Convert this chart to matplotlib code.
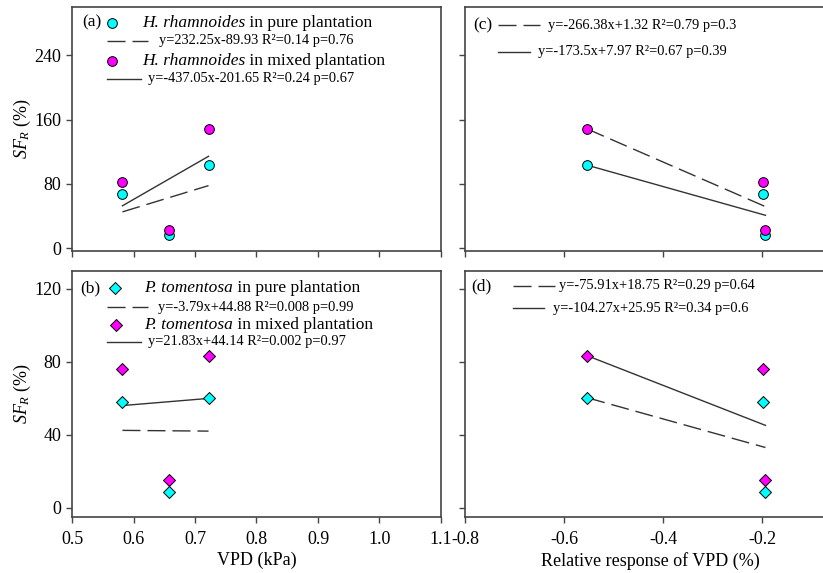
import numpy as np
import matplotlib
matplotlib.use('Agg')
import matplotlib.pyplot as plt
from matplotlib.lines import Line2D

plt.rcParams['font.family'] = 'Liberation Serif'
plt.rcParams['mathtext.fontset'] = 'custom'
plt.rcParams['mathtext.rm'] = 'Liberation Serif'
plt.rcParams['mathtext.it'] = 'Liberation Serif:italic'

# --- data ---
vpd = [0.582, 0.657, 0.722]            # VPD (kPa)
rel_vpd = [-0.197, -0.193, -0.553]     # relative response of VPD
hr_pure = [67, 16, 103]                # H. rhamnoides, pure plantation
hr_mixed = [82, 23, 148]               # H. rhamnoides, mixed plantation
pt_pure = [58, 8.5, 60]                # P. tomentosa, pure plantation
pt_mixed = [76, 15, 83]                # P. tomentosa, mixed plantation

eq_a = ['y=232.25x-89.93 R\u00b2=0.14 p=0.76', 'y=-437.05x-201.65 R\u00b2=0.24 p=0.67']
eq_b = ['y=-3.79x+44.88 R\u00b2=0.008 p=0.99', 'y=21.83x+44.14 R\u00b2=0.002 p=0.97']
eq_c = ['y=-266.38x+1.32 R\u00b2=0.79 p=0.3', 'y=-173.5x+7.97 R\u00b2=0.67 p=0.39']
eq_d = ['y=-75.91x+18.75 R\u00b2=0.29 p=0.64', 'y=-104.27x+25.95 R\u00b2=0.34 p=0.6']

CYAN = '#00ffff'
MAGENTA = '#ff00ff'
LINE = '#333333'
DASH = (0, (13, 5))
EQ_SIZE = 10.4
LEG_SIZE = 12.5

W, H = 823, 573
fig = plt.figure(figsize=(W / 100, H / 100), dpi=100)


def fx(x):
    return x / W


def fy(y):
    return 1 - y / H


def make_ax(l, t, r, b):
    ax = fig.add_axes([l / W, 1 - b / H, (r - l) / W, (b - t) / H])
    for s in ax.spines.values():
        s.set_color('#444444')
        s.set_linewidth(1.2)
    ax.tick_params(direction='out', length=4, width=1, color='#444444', labelsize=13)
    ax.tick_params(axis='x', pad=6)
    return ax


def points(ax, x, y, marker, color, ms):
    ax.plot(x, y, marker, ms=ms, mfc=color, mec='black', mew=0.7, ls='none', zorder=3)


def fit_line(ax, x, y, ls):
    k, b = np.polyfit(x, y, 1)
    xs = np.array([min(x), max(x)])
    ax.plot(xs, k * xs + b, color=LINE, lw=1, ls=ls, zorder=2)


def leg_line(x0, x1, y, ls):
    fig.add_artist(Line2D([fx(x0), fx(x1)], [fy(y), fy(y)], color=LINE, lw=1, ls=ls))


def leg_marker(x, y, marker, color, ms):
    fig.add_artist(Line2D([fx(x)], [fy(y)], marker=marker, ms=ms, mfc=color,
                          mec='black', mew=0.7, ls='none'))


def leg_text(x, y, s, size):
    fig.text(fx(x), fy(y), s, fontsize=size, ha='left', va='center')


def leg_species(x, y, species, rest):
    # italic species name, then the rest in upright text on the same baseline
    t = fig.text(fx(x), fy(y), species, fontsize=LEG_SIZE, style='italic',
                 ha='left', va='center')
    plt.annotate(rest, xy=(1, 0), xycoords=t, fontsize=LEG_SIZE,
                 ha='left', va='bottom', annotation_clip=False)


ax_a = make_ax(72, 7, 441, 250.7)
ax_c = make_ax(465, 7, 836.25, 250.7)
ax_b = make_ax(72, 270.7, 441, 516.7)
ax_d = make_ax(465, 270.7, 836.25, 516.7)

ylabel = r'$\mathit{SF}_{\mathit{R}}$ (%)'

# (a) H. rhamnoides vs VPD
points(ax_a, vpd, hr_pure, 'o', CYAN, 7)
points(ax_a, vpd, hr_mixed, 'o', MAGENTA, 7)
fit_line(ax_a, vpd, hr_pure, DASH)
fit_line(ax_a, vpd, hr_mixed, '-')

# (c) H. rhamnoides vs relative response
points(ax_c, rel_vpd, hr_pure, 'o', CYAN, 7)
points(ax_c, rel_vpd, hr_mixed, 'o', MAGENTA, 7)
fit_line(ax_c, rel_vpd, hr_mixed, DASH)
fit_line(ax_c, rel_vpd, hr_pure, '-')

# (b) P. tomentosa vs VPD
points(ax_b, vpd, pt_pure, 'D', CYAN, 5.8)
points(ax_b, vpd, pt_mixed, 'D', MAGENTA, 5.8)
fit_line(ax_b, vpd, pt_pure, DASH)
fit_line(ax_b, vpd, pt_mixed, '-')

# (d) P. tomentosa vs relative response
points(ax_d, rel_vpd, pt_pure, 'D', CYAN, 5.8)
points(ax_d, rel_vpd, pt_mixed, 'D', MAGENTA, 5.8)
fit_line(ax_d, rel_vpd, pt_pure, DASH)
fit_line(ax_d, rel_vpd, pt_mixed, '-')

for ax in (ax_a, ax_c):
    ax.set_ylim(-3, 300)
    ax.set_yticks([0, 80, 160, 240])
for ax in (ax_b, ax_d):
    ax.set_ylim(-5, 130)
    ax.set_yticks([0, 40, 80, 120])
for ax in (ax_a, ax_b):
    ax.set_xlim(0.5, 1.1)
    ax.set_xticks(np.arange(0.5, 1.15, 0.1))
    ax.set_ylabel(ylabel, fontsize=13, labelpad=1)
for ax in (ax_c, ax_d):
    ax.set_xlim(-0.8, -0.05)
    ax.set_xticks([-0.8, -0.6, -0.4, -0.2])
    ax.tick_params(labelleft=False)
ax_a.tick_params(labelbottom=False)
ax_c.tick_params(labelbottom=False)
ax_b.xaxis.set_major_formatter(plt.FormatStrFormatter('%.1f'))
ax_d.xaxis.set_major_formatter(plt.FormatStrFormatter('%.1f'))
ax_b.set_xlabel('VPD (kPa)', fontsize=13, labelpad=3)
ax_d.set_xlabel('Relative response of VPD (%)', fontsize=13, labelpad=3)

# legends, panel (a)
leg_text(82, 22.7, '(a)', LEG_SIZE)
leg_marker(111.7, 22.7, 'o', CYAN, 7)
leg_species(141.7, 22.7, 'H. rhamnoides', ' in pure plantation')
leg_line(107, 148, 40.7, DASH)
leg_text(159, 40.7, eq_a[0], EQ_SIZE)
leg_marker(111.7, 61, 'o', MAGENTA, 7)
leg_species(141.7, 61, 'H. rhamnoides', ' in mixed plantation')
leg_line(107, 141, 78.7, '-')
leg_text(148, 78.7, eq_a[1], EQ_SIZE)

# panel (c)
leg_text(473, 25, '(c)', LEG_SIZE)
leg_line(498, 540, 25, DASH)
leg_text(548, 25, eq_c[0], EQ_SIZE)
leg_line(498, 530, 52, '-')
leg_text(538, 52, eq_c[1], EQ_SIZE)

# panel (b)
leg_text(80, 288.3, '(b)', LEG_SIZE)
leg_marker(115, 288.3, 'D', CYAN, 5.8)
leg_species(144, 288.3, 'P. tomentosa', ' in pure plantation')
leg_line(107, 148, 307.3, DASH)
leg_text(158, 307.3, eq_b[0], EQ_SIZE)
leg_marker(115.7, 325, 'D', MAGENTA, 5.8)
leg_species(144, 325, 'P. tomentosa', ' in mixed plantation')
leg_line(107, 141, 341.7, '-')
leg_text(148, 341.7, eq_b[1], EQ_SIZE)

# panel (d)
leg_text(471.7, 286, '(d)', LEG_SIZE)
leg_line(512.7, 555, 286, DASH)
leg_text(559.3, 286, eq_d[0], EQ_SIZE)
leg_line(512.7, 544, 308.3, '-')
leg_text(552.7, 308.3, eq_d[1], EQ_SIZE)

fig.savefig('out.png', dpi=100)
